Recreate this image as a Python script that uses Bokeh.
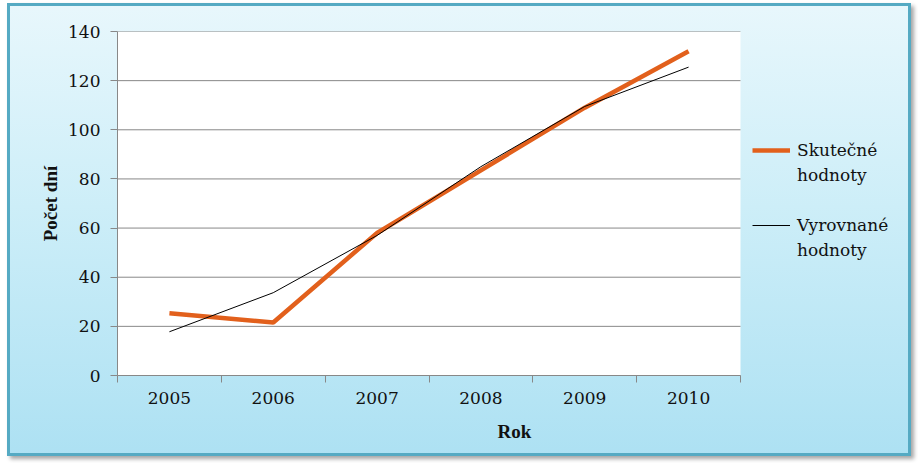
from bokeh.plotting import figure
from bokeh.models import FixedTicker, Legend, LegendItem, Range1d, BoxAnnotation
from bokeh.embed import file_html
from bokeh.resources import INLINE

years = [2005, 2006, 2007, 2008, 2009, 2010]
actual = [25.3, 21.6, 58.0, 83.5, 109.0, 132.0]
fitted = [17.8, 33.7, 57.0, 85.0, 109.5, 125.5]
year_labels = ["2005", "2006", "2007", "2008", "2009", "2010"]
y_ticks = [0, 20, 40, 60, 80, 100, 120, 140]
series_names = [["Skutečné", "hodnoty"], ["Vyrovnané", "hodnoty"]]

GRID = "#888888"
TXT = "#111111"
SERIF = "DejaVu Serif"
SERIF_BOLD = "Liberation Serif"

x_lo = years[0] - 0.5
x_hi = years[-1] + 0.5
x_end = x_lo + 6 * 794 / 623

p = figure(width=904, height=453, output_backend="svg", toolbar_location=None,
           x_range=Range1d(x_lo, x_end), y_range=Range1d(y_ticks[0], y_ticks[-1]),
           min_border_left=110, min_border_right=0, min_border_top=28,
           min_border_bottom=81)
p.margin = (3, 7, 7, 7)
p.styles = {
    "background": "linear-gradient(180deg, #e8f7fc 0%, #cdeef8 45%, #ade1f3 100%)",
    "box-shadow": "inset 0 0 0 3px #55aac3, 3px 3px 4px rgba(0,0,0,0.35)",
}
p.border_fill_alpha = 0
p.background_fill_alpha = 0
p.outline_line_color = None

p.add_layout(BoxAnnotation(left=x_lo, right=x_hi, bottom=y_ticks[0], top=y_ticks[-1],
                           fill_color="white", fill_alpha=1, line_color=None,
                           level="image"))

boundaries = [y - 0.5 for y in years] + [x_hi]
p.xaxis.ticker = FixedTicker(ticks=years, minor_ticks=boundaries)
p.xaxis.bounds = (x_lo, x_hi)
p.xaxis.major_label_overrides = {y: l for y, l in zip(years, year_labels)}
p.xaxis.major_tick_out = 0
p.xaxis.major_tick_in = 0
p.xaxis.minor_tick_out = 7
p.xaxis.minor_tick_in = 0
p.xaxis.minor_tick_line_color = GRID
p.xgrid.visible = False
p.ygrid.visible = False

p.yaxis.ticker = FixedTicker(ticks=y_ticks)
p.yaxis.minor_tick_line_color = None
p.yaxis.major_tick_out = 7
p.yaxis.major_tick_in = 0

p.segment(x0=[x_lo] * len(y_ticks), x1=[x_hi] * len(y_ticks), y0=y_ticks, y1=y_ticks,
          line_color=GRID, line_width=1)

for ax in (p.xaxis, p.yaxis):
    ax.axis_line_color = GRID
    ax.major_tick_line_color = GRID
    ax.major_label_text_font = SERIF
    ax.major_label_text_font_size = "17px"
    ax.major_label_text_color = TXT
    ax.axis_label_text_font = SERIF_BOLD
    ax.axis_label_text_font_size = "19px"
    ax.axis_label_text_font_style = "bold"
    ax.axis_label_text_color = TXT

p.xaxis.axis_label = "Rok"
p.yaxis.axis_label = "Počet dní"
p.xaxis.major_label_standoff = 9
p.yaxis.major_label_standoff = 10
p.xaxis.axis_label_standoff = 14
p.yaxis.axis_label_standoff = 4

r1 = p.line(years, actual, line_color="#e2601c", line_width=4.5)
r2 = p.line(years, fitted, line_color="black", line_width=1)
blank = p.line([], [], line_alpha=0)

legend = Legend(items=[LegendItem(label=series_names[0][0], renderers=[r1]),
                       LegendItem(label=series_names[0][1], renderers=[blank]),
                       LegendItem(label=" ", renderers=[blank]),
                       LegendItem(label=series_names[1][0], renderers=[r2]),
                       LegendItem(label=series_names[1][1], renderers=[blank])],
                location=(635, 114), orientation="vertical")
legend.background_fill_alpha = 0
legend.border_line_color = None
legend.label_text_font = SERIF
legend.label_text_font_size = "17px"
legend.label_text_color = TXT
legend.glyph_width = 38
legend.glyph_height = 22
legend.label_height = 22
legend.label_standoff = 7
legend.spacing = 3
legend.margin = 0
legend.padding = 0
p.add_layout(legend, "center")

open("out.html", "w").write(file_html(p, INLINE))
